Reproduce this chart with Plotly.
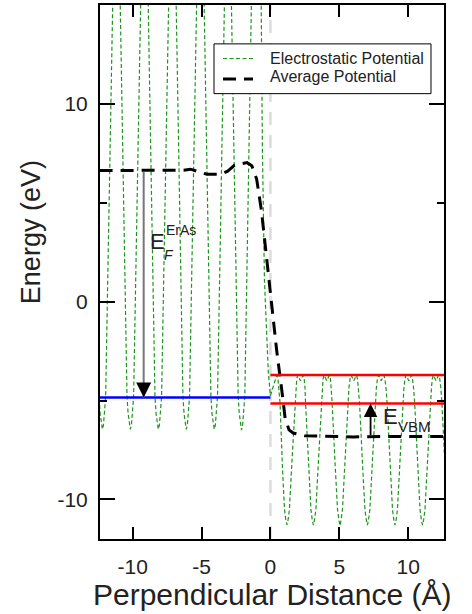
import plotly.graph_objects as go

# ---- Electrostatic potential across the ErAs / semiconductor interface ----
# (x in Angstrom, energy in eV); peaks on the ErAs side rise beyond the axis top
pot_x = [
    -13.2,
    -12.93, -12.63, -12.44, -12.36, -12.28, -12.2, -12.12, -12.04, -11.96, -11.77, -11.47,
    -11.19,
    -10.9, -10.6, -10.41, -10.33, -10.25, -10.17, -10.09, -10.01, -9.93, -9.74, -9.44,
    -9.16,
    -8.87, -8.57, -8.38, -8.30, -8.22, -8.14, -8.06, -7.98, -7.90, -7.71, -7.41,
    -7.13,
    -6.84, -6.54, -6.35, -6.27, -6.19, -6.11, -6.03, -5.95, -5.87, -5.68, -5.38,
    -5.10,
    -4.81, -4.51, -4.32, -4.24, -4.16, -4.08, -4.00, -3.92, -3.84, -3.65, -3.35,
    -3.09,
    -2.83, -2.53, -2.34, -2.26, -2.18, -2.10, -2.02, -1.94, -1.86, -1.68, -1.47,
    -1.07,
    -0.67, -0.58, -0.43, -0.30, -0.15, 0.00, 0.12, 0.34, 0.46, 0.54, 0.62,
    0.70, 0.87, 1.02, 1.12, 1.20,
    1.28, 1.38, 1.57, 1.77, 1.85, 1.91, 1.98, 2.08, 2.18, 2.28, 2.38, 2.45,
    2.51, 2.55, 2.75, 2.94, 3.04, 3.12, 3.20, 3.30, 3.49, 3.69, 3.77, 3.82, 3.89, 3.99, 4.09, 4.19, 4.29, 4.36,
    4.42, 4.48, 4.68, 4.87, 4.97, 5.05, 5.13, 5.23, 5.42, 5.62, 5.70, 5.78, 5.85, 5.95, 6.05, 6.15, 6.25, 6.32,
    6.39, 6.47, 6.67, 6.86, 6.96, 7.04, 7.12, 7.22, 7.41, 7.61, 7.69, 7.77, 7.84, 7.94, 8.04, 8.14, 8.24, 8.31,
    8.39, 8.47, 8.67, 8.86, 8.96, 9.04, 9.12, 9.22, 9.41, 9.61, 9.69, 9.77, 9.84, 9.94, 10.04, 10.14, 10.24, 10.31,
    10.39, 10.47, 10.67, 10.86, 10.96, 11.04, 11.12, 11.22, 11.41, 11.61, 11.69, 11.75, 11.82, 11.92, 12.02, 12.12, 12.22, 12.29,
    12.37, 12.45, 12.65,
]
pot_y = [
    25,
    15, 2.6, -4.8, -5.65, -6.25, -6.45, -6.25, -5.65, -4.8, 2.6, 15,
    25,
    15, 2.6, -4.8, -5.65, -6.25, -6.45, -6.25, -5.65, -4.8, 2.6, 15,
    25,
    15, 2.6, -4.8, -5.65, -6.25, -6.45, -6.25, -5.65, -4.8, 2.6, 15,
    25,
    15, 2.6, -4.8, -5.65, -6.25, -6.45, -6.25, -5.65, -4.8, 2.6, 15,
    25,
    15, 2.6, -4.8, -5.65, -6.25, -6.45, -6.25, -5.65, -4.8, 2.6, 15,
    25,
    15, 2.6, -4.8, -5.65, -6.25, -6.5, -6.25, -5.65, -4.8, 2.6, 15,
    28,
    15, 7.6, 1.0, -1.5, -3.6, -4.75, -4.45, -3.97, -3.72, -3.85, -4.4,
    -5.13, -8.3, -10.5, -11.05, -11.28,
    -11.05, -10.5, -8.0, -5.13, -4.35, -3.9, -3.72, -3.85, -4.0, -3.85, -3.72, -3.9,
    -4.35, -5.13, -8.0, -10.5, -11.05, -11.3, -11.05, -10.5, -8.0, -5.13, -4.35, -3.9, -3.72, -3.85, -4.0, -3.85, -3.72, -3.9,
    -4.35, -5.13, -8.0, -10.5, -11.05, -11.33, -11.05, -10.5, -8.0, -5.13, -4.35, -3.9, -3.72, -3.85, -4.0, -3.85, -3.72, -3.9,
    -4.35, -5.13, -8.0, -10.5, -11.05, -11.3, -11.05, -10.5, -8.0, -5.13, -4.35, -3.9, -3.72, -3.85, -4.0, -3.85, -3.72, -3.9,
    -4.35, -5.13, -8.0, -10.5, -11.05, -11.3, -11.05, -10.5, -8.0, -5.13, -4.35, -3.9, -3.72, -3.85, -4.0, -3.85, -3.72, -3.9,
    -4.35, -5.13, -8.0, -10.5, -11.05, -11.3, -11.05, -10.5, -8.0, -5.13, -4.35, -3.9, -3.72, -3.85, -4.0, -3.85, -3.72, -3.9,
    -4.35, -5.13, -8.0,
]

# ---- Macroscopic (plane-) averaged potential ----
avg_x = [-12.4, -10.0, -8.0, -6.3, -5.8, -5.2, -4.6, -3.6, -3.1, -2.6, -1.7, -1.35,
         -1.0, -0.65, -0.43, -0.2, 0.0, 0.2, 0.46, 0.83, 1.07, 1.35, 1.65, 2.5,
         4.0, 6.0, 8.0, 10.0, 12.7]
avg_y = [6.63, 6.63, 6.63, 6.65, 6.7, 6.55, 6.44, 6.44, 6.6, 6.9, 7.03, 6.87,
         6.2, 4.6, 3.2, 1.6, 0.5, -0.7, -2.5, -4.5, -5.9, -6.48, -6.64, -6.78,
         -6.8, -6.84, -6.82, -6.82, -6.82]

# ---- Band-edge / Fermi levels ----
interface_x = 0.0
x_min, x_max = -12.37, 12.6
fermi_level = -4.84          # ErAs Fermi level (left side)
band_upper = -3.71           # semiconductor levels (right side)
band_vbm = -5.15
avg_left = 6.63              # average potential plateau, ErAs side
avg_right = -6.82            # average potential plateau, semiconductor side
ef_arrow_x = -9.2
vbm_arrow_x = 7.27

# ---- Tick labels ----
x_tick_vals = [-10, -5, 0, 5, 10]
x_tick_text = ["-10", "-5", "0", "5", "10"]
y_tick_vals = [-10, 0, 10]
y_tick_text = ["-10", "0", "10"]

# ---- Legend entries ----
legend_names = ["Electrostatic Potential", "Average Potential"]

FONT = "Liberation Sans, Arial, Helvetica, sans-serif"
TXT = "#222222"
GREEN = "#1a961a"
GREEN_DASH = "4px,2.5px"
AVG_DASH = "13px,8px"

fig = go.Figure()

fig.add_trace(go.Scatter(
    x=pot_x, y=pot_y, mode="lines", name=legend_names[0], showlegend=False,
    line=dict(color=GREEN, width=1.2, dash=GREEN_DASH),
))
fig.add_trace(go.Scatter(
    x=avg_x, y=avg_y, mode="lines", name=legend_names[1], showlegend=False,
    line=dict(color="black", width=3, dash=AVG_DASH),
))
fig.add_trace(go.Scatter(
    x=[x_min, interface_x], y=[fermi_level, fermi_level], mode="lines",
    line=dict(color="#0000ff", width=2.5), showlegend=False,
))
fig.add_trace(go.Scatter(
    x=[interface_x, x_max], y=[band_upper, band_upper], mode="lines",
    line=dict(color="#ff0000", width=2.5), showlegend=False,
))
fig.add_trace(go.Scatter(
    x=[interface_x, x_max], y=[band_vbm, band_vbm], mode="lines",
    line=dict(color="#ff0000", width=2.5), showlegend=False,
))

# interface position
fig.add_vline(x=interface_x, line=dict(color="#dcdcdc", width=2.5, dash="13px,10px"),
              layer="below")

# E_F arrow: grey shaft with black head
fig.add_annotation(x=ef_arrow_x, y=fermi_level, ax=ef_arrow_x, ay=avg_left,
                   xref="x", yref="y", axref="x", ayref="y", text="",
                   showarrow=True, arrowhead=0, arrowwidth=2, arrowcolor="#777777")
fig.add_annotation(x=ef_arrow_x, y=fermi_level, ax=ef_arrow_x, ay=fermi_level + 0.75,
                   xref="x", yref="y", axref="x", ayref="y", text="",
                   showarrow=True, arrowhead=2, arrowsize=1.5, arrowwidth=2,
                   arrowcolor="black")
# E_VBM arrow
fig.add_annotation(x=vbm_arrow_x, y=band_vbm, ax=vbm_arrow_x, ay=avg_right,
                   xref="x", yref="y", axref="x", ayref="y", text="",
                   showarrow=True, arrowhead=2, arrowsize=1.5, arrowwidth=1.8,
                   arrowcolor="black")

def label(x, y, text, size):
    fig.add_annotation(x=x, y=y, xref="x", yref="y", text=text,
                       showarrow=False, xanchor="left", yanchor="middle",
                       font=dict(family=FONT, size=size, color=TXT))

label(-8.85, 3.03, "E", 22)
label(-7.85, 2.36, "<i>F</i>", 14)
label(-7.72, 3.6, "ErAs", 14)
label(8.05, -5.8, "E", 22)
label(9.1, -6.33, "VBM", 15)

# legend box drawn over the curves
fig.add_shape(type="rect", xref="paper", yref="paper",
              x0=0.3314, x1=0.9622, y0=0.834, y1=0.9272,
              fillcolor="white", line=dict(color="black", width=1), layer="above")
fig.add_shape(type="line", xref="paper", yref="paper",
              x0=0.3576, x1=0.4448, y0=0.8998, y1=0.8998,
              line=dict(color=GREEN, width=1.2, dash=GREEN_DASH), layer="above")
fig.add_shape(type="line", xref="paper", yref="paper",
              x0=0.3576, x1=0.4448, y0=0.8614, y1=0.8614,
              line=dict(color="black", width=3, dash=AVG_DASH), layer="above")
fig.add_annotation(x=0.487, y=0.9005, xref="paper", yref="paper", text=legend_names[0],
                   showarrow=False, xanchor="left", yanchor="middle",
                   font=dict(family=FONT, size=16, color=TXT))
fig.add_annotation(x=0.487, y=0.8665, xref="paper", yref="paper", text=legend_names[1],
                   showarrow=False, xanchor="left", yanchor="middle",
                   font=dict(family=FONT, size=16, color=TXT))

# axis titles
fig.add_annotation(x=-0.2, y=0.575, xref="paper", yref="paper", text="Energy (eV)",
                   textangle=-90, showarrow=False, xanchor="center", yanchor="middle",
                   font=dict(family=FONT, size=27, color=TXT))
fig.add_annotation(x=0.501, y=-0.1035, xref="paper", yref="paper",
                   text="Perpendicular Distance (Å)", showarrow=False,
                   xanchor="center", yanchor="middle",
                   font=dict(family=FONT, size=30, color=TXT))

axis_common = dict(
    showline=True, linecolor="black", linewidth=2, mirror="ticks",
    ticks="inside", tickcolor="black", tickwidth=2,
    showgrid=False, zeroline=False,
    tickfont=dict(family=FONT, size=21, color=TXT),
)
fig.update_xaxes(range=[x_min, x_max], tickmode="array", tickvals=x_tick_vals,
                 ticktext=x_tick_text, ticklen=12, ticklabelstandoff=8, **axis_common)
fig.update_yaxes(range=[-12, 15], tickmode="array", tickvals=y_tick_vals,
                 ticktext=y_tick_text, ticklen=15, ticklabelstandoff=6,
                 minor=dict(tickmode="linear", dtick=5, tick0=0, ticks="inside", ticklen=7,
                            tickwidth=2, tickcolor="black", showgrid=False),
                 **axis_common)

fig.update_layout(
    width=472, height=614,
    margin=dict(l=100, r=28, t=3, b=75),
    paper_bgcolor="white", plot_bgcolor="white",
    font=dict(family=FONT, color=TXT),
    showlegend=False,
)

fig.write_html("out.html")
